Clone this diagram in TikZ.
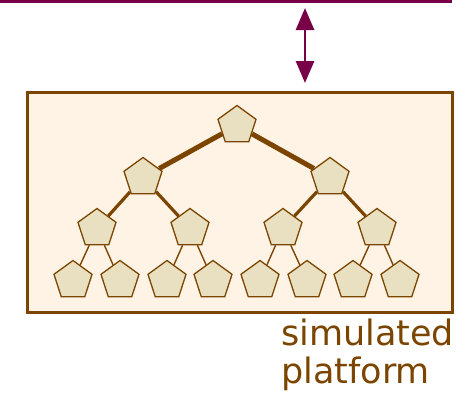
\documentclass[tikz,border=0pt]{standalone}
\usepackage{fontspec}
\setmainfont{DejaVu Sans}
\usetikzlibrary{shapes.geometric,arrows.meta}
\definecolor{maroon}{HTML}{780046}
\definecolor{brownc}{HTML}{7B4500}
\definecolor{boxfill}{HTML}{FFF3E6}
\definecolor{pentfill}{HTML}{E9E0C2}
\tikzset{
  pent/.style={regular polygon, regular polygon sides=5, minimum size=40bp, inner sep=0pt,
    draw=brownc, line width=1.3bp, fill=pentfill},
  e1/.style={draw=brownc, line width=5bp},
  e2/.style={draw=brownc, line width=3.2bp},
  e3/.style={draw=brownc, line width=1.4bp},
  lbl/.style={text=brownc, font=\fontsize{35bp}{38bp}\selectfont, anchor=base west, inner sep=0pt},
}
\begin{document}
\begin{tikzpicture}[x=1bp,y=-1bp]
\useasboundingbox (0,0) rectangle (459,398);
\coordinate (tl) at (0,1.5);
\coordinate (tr) at (452,1.5);
\draw[maroon, line width=3bp] (tl) -- (tr);
\node[draw=brownc, line width=3bp, fill=boxfill, minimum width=425bp, minimum height=220bp, inner sep=0pt, anchor=north west] (box) at (26,91) {};
\coordinate (aT) at (305,8);
\coordinate (aB) at (305,83);
\draw[maroon, line width=2.8bp, {Triangle[length=22bp,width=18bp]}-{Triangle[length=22bp,width=18bp]}] (aT) -- (aB);
% tree
\node[pent] (r) at (237,125.5) {};
\node[pent] (a) at (143,177.5) {};
\node[pent] (b) at (330,177.5) {};
\node[pent] (a1) at (97,228.5) {};
\node[pent] (a2) at (190,228.5) {};
\node[pent] (b1) at (283,228.5) {};
\node[pent] (b2) at (377,228.5) {};
\node[pent] (l1) at (73,280.5) {};
\node[pent] (l2) at (120,280.5) {};
\node[pent] (l3) at (167,280.5) {};
\node[pent] (l4) at (213,280.5) {};
\node[pent] (l5) at (260,280.5) {};
\node[pent] (l6) at (307,280.5) {};
\node[pent] (l7) at (353,280.5) {};
\node[pent] (l8) at (400,280.5) {};
\path[e1] (r) -- (a) (r) -- (b);
\path[e2] (a) -- (a1) (a) -- (a2) (b) -- (b1) (b) -- (b2);
\path[e3] (a1) -- (l1) (a1) -- (l2) (a2) -- (l3) (a2) -- (l4) (b1) -- (l5) (b1) -- (l6) (b2) -- (l7) (b2) -- (l8);
\node[lbl] (t1) at (281,345) {simulated};
\node[lbl] (t2) at (281,383) {platform};
\end{tikzpicture}
\end{document}
